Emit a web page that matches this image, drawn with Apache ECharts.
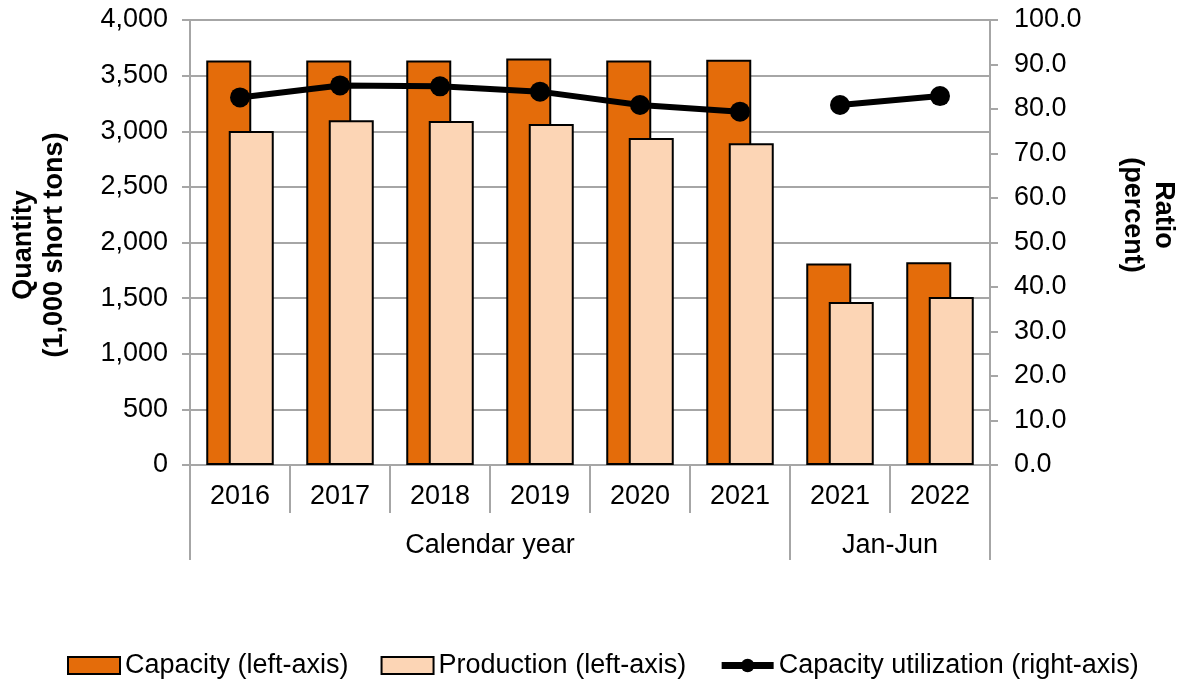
<!DOCTYPE html>
<html>
<head>
<meta charset="utf-8">
<script src="https://cdn.jsdelivr.net/npm/echarts@6/dist/echarts.min.js"></script>
<style>
  html, body { margin: 0; padding: 0; background: #fff; }
  #chart { width: 1183px; height: 681px; }
</style>
</head>
<body>
<div id="chart"></div>
<script>
// Period labels along the bottom axis
const years = ['2016', '2017', '2018', '2019', '2020', '2021', '2021', '2022'];
// Period groups: label and number of categories in each
const groupLabels = ['Calendar year', 'Jan-Jun'];
const groupSizes = [6, 2];

// Quantities, 1,000 short tons
const capacity = [3635, 3635, 3635, 3655, 3635, 3642, 1812, 1822];
const production = [3002, 3100, 3092, 3066, 2940, 2892, 1466, 1510];
// Capacity utilization, percent
const utilization = [82.6, 85.3, 85.1, 83.9, 80.9, 79.4, 80.9, 82.9];

const leftTicks = { min: 0, max: 4000, interval: 500 };
const rightTicks = { min: 0, max: 100, interval: 10 };

const FONT = 'Liberation Sans, Arial, sans-serif';
const GRAY = '#a6a6a6';
const FS = 27;

// Group boundaries and centres expressed in category units
const groupEdges = [0];
groupSizes.forEach(n => groupEdges.push(groupEdges[groupEdges.length - 1] + n));
const groupCentres = groupSizes.map((n, i) => groupEdges[i] + n / 2);

// Utilization line is broken between the calendar-year and Jan-Jun periods
const nCal = groupSizes[0];
const utilCal = utilization.map((v, i) => (i < nCal ? v : '-'));
const utilHalf = utilization.map((v, i) => (i >= nCal ? v : '-'));

const chart = echarts.init(document.getElementById('chart'), null, { renderer: 'canvas' });

const utilSeries = (data) => ({
  name: 'Capacity utilization (right-axis)',
  type: 'line',
  yAxisIndex: 1,
  data: data,
  symbol: 'circle',
  symbolSize: 20,
  itemStyle: { color: '#000' },
  lineStyle: { color: '#000', width: 6 },
  z: 5
});

chart.setOption({
  animation: false,
  textStyle: { fontFamily: FONT, color: '#000' },
  grid: { left: 190, right: 193, top: 20, bottom: 216 },
  legend: {
    top: 647,
    left: 62,
    itemWidth: 52,
    itemHeight: 17,
    itemGap: 32,
    textStyle: { fontSize: FS, color: '#000', fontFamily: FONT },
    data: [
      { name: 'Capacity (left-axis)', icon: 'rect' },
      { name: 'Production (left-axis)', icon: 'rect' },
      {
        name: 'Capacity utilization (right-axis)',
        lineStyle: { width: 7, color: '#000' },
        itemStyle: { color: '#000' }
      }
    ]
  },
  xAxis: [
    {
      type: 'category',
      data: years,
      boundaryGap: true,
      axisLine: { show: true, lineStyle: { color: GRAY, width: 2 } },
      axisTick: { show: true, interval: 0, length: 48, lineStyle: { color: GRAY, width: 2 } },
      axisLabel: { interval: 0, fontSize: FS, color: '#000', margin: 18, fontFamily: FONT },
      splitLine: { show: false }
    },
    {
      // Second tier: period groups
      type: 'value',
      position: 'bottom',
      min: 0,
      max: years.length,
      axisLine: { show: false },
      splitLine: { show: false },
      axisTick: {
        show: true,
        customValues: groupEdges,
        length: 95,
        lineStyle: { color: GRAY, width: 2 }
      },
      axisLabel: {
        show: true,
        customValues: groupCentres,
        formatter: (v) => groupLabels[groupCentres.indexOf(v)] || '',
        fontSize: FS,
        color: '#000',
        margin: 67,
        fontFamily: FONT
      }
    }
  ],
  yAxis: [
    {
      type: 'value',
      min: leftTicks.min,
      max: leftTicks.max,
      interval: leftTicks.interval,
      axisLine: { show: true, lineStyle: { color: GRAY, width: 2 } },
      axisTick: { show: true, length: 8, lineStyle: { color: GRAY, width: 2 } },
      axisLabel: {
        fontSize: FS,
        color: '#000',
        margin: 22,
        fontFamily: FONT,
        formatter: (v) => v.toLocaleString('en-US')
      },
      splitLine: { show: true, lineStyle: { color: GRAY, width: 2 } }
    },
    {
      type: 'value',
      position: 'right',
      min: rightTicks.min,
      max: rightTicks.max,
      interval: rightTicks.interval,
      axisLine: { show: true, lineStyle: { color: GRAY, width: 2 } },
      axisTick: { show: true, length: 8, lineStyle: { color: GRAY, width: 2 } },
      axisLabel: {
        fontSize: FS,
        color: '#000',
        margin: 24,
        fontFamily: FONT,
        formatter: (v) => v.toFixed(1)
      },
      splitLine: { show: false }
    }
  ],
  graphic: [
    {
      type: 'text',
      x: 39,
      y: 245,
      rotation: Math.PI / 2,
      style: {
        text: 'Quantity\n(1,000 short tons)',
        font: 'bold 27px ' + FONT,
        fill: '#000',
        align: 'center',
        verticalAlign: 'middle',
        lineHeight: 31
      }
    },
    {
      type: 'text',
      x: 1148,
      y: 215,
      rotation: -Math.PI / 2,
      style: {
        text: 'Ratio\n(percent)',
        font: 'bold 27px ' + FONT,
        fill: '#000',
        align: 'center',
        verticalAlign: 'middle',
        lineHeight: 31
      }
    }
  ],
  series: [
    {
      name: 'Capacity (left-axis)',
      type: 'bar',
      data: capacity,
      barWidth: 45,
      barGap: '-50%',
      itemStyle: { color: '#E46C0A', borderColor: '#000', borderWidth: 2 }
    },
    {
      name: 'Production (left-axis)',
      type: 'bar',
      data: production,
      barWidth: 45,
      barGap: '-50%',
      itemStyle: { color: '#FCD5B5', borderColor: '#000', borderWidth: 2 }
    },
    utilSeries(utilCal),
    utilSeries(utilHalf)
  ]
});
</script>
</body>
</html>
